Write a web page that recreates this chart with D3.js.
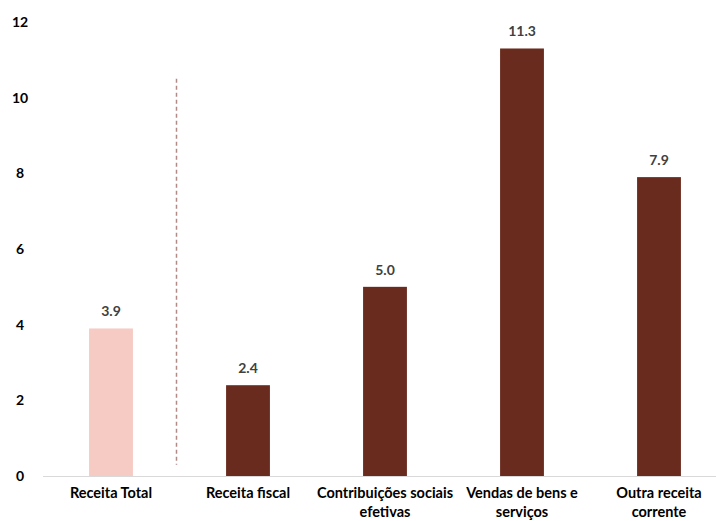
<!DOCTYPE html>
<html>
<head>
<meta charset="utf-8">
<script src="https://cdn.jsdelivr.net/npm/d3@7"></script>
<style>
  body { margin: 0; background: #fff; }
  text { font-family: Lato, "Open Sans", sans-serif; font-weight: bold; }
</style>
</head>
<body>
<div id="chart"></div>
<script>
var width = 716,
  height = 521;

// data
var categories = ["Receita Total", "Receita fiscal", "Contribuições sociais efetivas", "Vendas de bens e serviços", "Outra receita corrente"];
var labelLines = [["Receita Total"], ["Receita fiscal"], ["Contribuições sociais", "efetivas"], ["Vendas de bens e", "serviços"], ["Outra receita", "corrente"]];
var values = [3.9, 2.4, 5.0, 11.3, 7.9];
var yTicks = [0, 2, 4, 6, 8, 10, 12];

var svg = d3.select("#chart").append("svg")
  .attr("width", width)
  .attr("height", height);

var x = d3.scaleBand()
  .domain(categories)
  .range([42.5, 727.5])
  .paddingInner(0.68)
  .paddingOuter(0.34);

var y = d3.scaleLinear()
  .domain([0, 12])
  .range([476, 22]);

// y tick labels (no axis line in the original)
svg.append("g").selectAll("text")
  .data(yTicks)
  .enter().append("text")
  .attr("x", 20)
  .attr("y", function(d) { return y(d); })
  .attr("dy", "0.35em")
  .attr("text-anchor", "middle")
  .attr("font-size", 14)
  .attr("fill", "#000")
  .text(function(d) { return d; });

// baseline
svg.append("line")
  .attr("x1", 43).attr("x2", width)
  .attr("y1", y(0) + 0.5).attr("y2", y(0) + 0.5)
  .attr("stroke", "#d9d9d9")
  .attr("stroke-width", 1);

// bars
svg.append("g").selectAll("rect")
  .data(values)
  .enter().append("rect")
  .attr("x", function(d, i) { return x(categories[i]); })
  .attr("width", x.bandwidth())
  .attr("y", function(d) { return y(d); })
  .attr("height", function(d) { return y(0) - y(d); })
  .attr("fill", function(d, i) { return i == 0 ? "#f6cbc3" : "#692b1e"; });

// value labels
svg.append("g").selectAll("text")
  .data(values)
  .enter().append("text")
  .attr("x", function(d, i) { return x(categories[i]) + x.bandwidth() / 2; })
  .attr("y", function(d) { return y(d) - 12; })
  .attr("text-anchor", "middle")
  .attr("font-size", 14)
  .attr("fill", "#404040")
  .text(function(d) { return d.toFixed(1); });

// dashed separator between total and components
var sepX = (x(categories[0]) + x.bandwidth() + x(categories[1])) / 2 - 3;
svg.append("line")
  .attr("x1", sepX).attr("x2", sepX)
  .attr("y1", y(10.5)).attr("y2", y(0.3))
  .attr("stroke", "#b08a86")
  .attr("stroke-width", 1.5)
  .attr("stroke-dasharray", "4,3");

// category labels
var cat = svg.append("g").selectAll("text")
  .data(labelLines)
  .enter().append("text")
  .attr("x", function(d, i) { return x(categories[i]) + x.bandwidth() / 2; })
  .attr("y", 498)
  .attr("text-anchor", "middle")
  .attr("font-size", 14.5)
  .attr("fill", "#000");

cat.selectAll("tspan")
  .data(function(d) { return d; })
  .enter().append("tspan")
  .attr("x", function() { return d3.select(this.parentNode).attr("x"); })
  .attr("dy", function(d, i) { return i == 0 ? 0 : 18.5; })
  .text(function(d) { return d; });
</script>
</body>
</html>
